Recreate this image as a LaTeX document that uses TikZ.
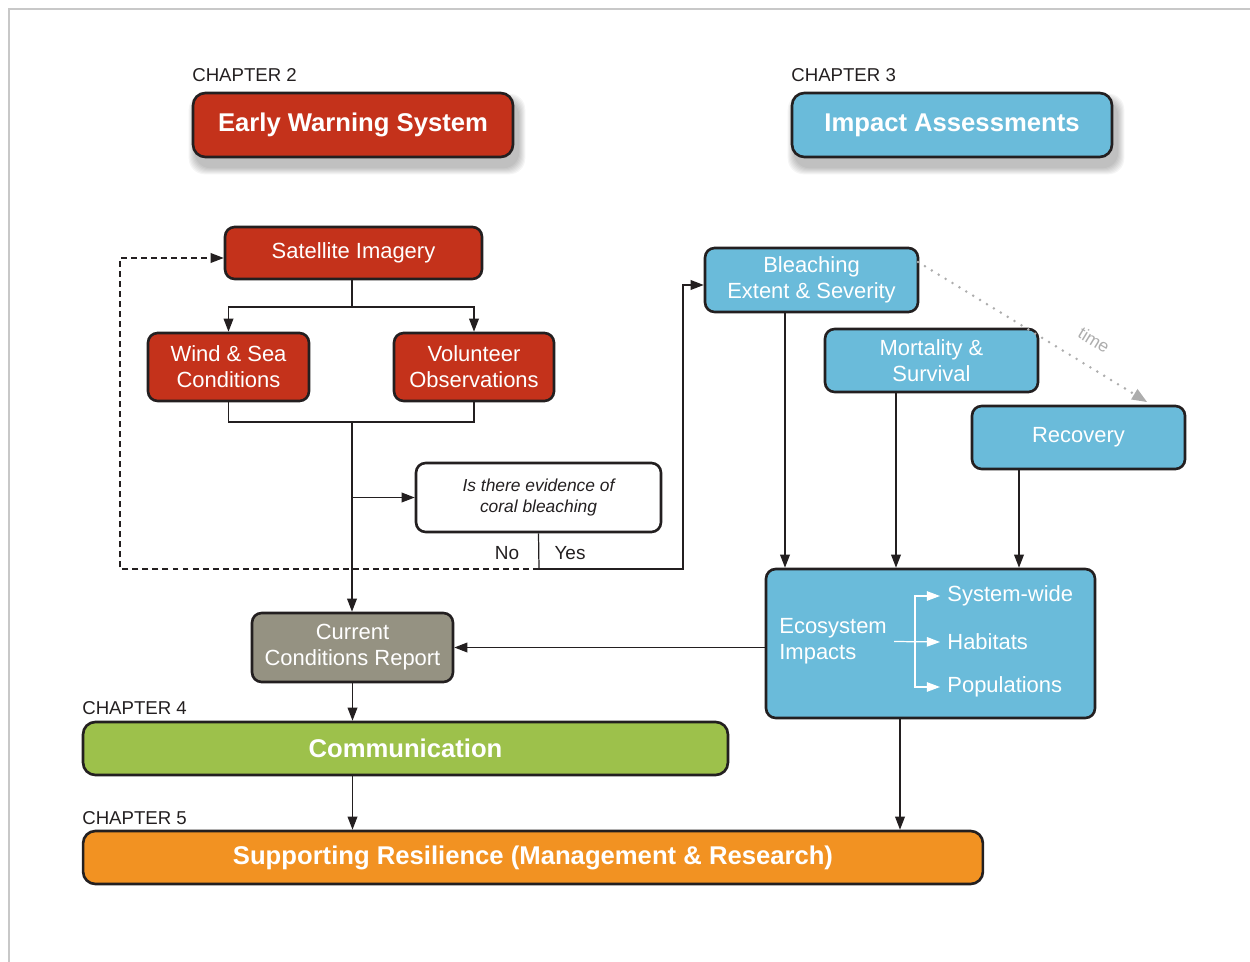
\documentclass[tikz,border=0pt]{standalone}
\usepackage{fontspec}
\setmainfont{Liberation Sans}
\usetikzlibrary{arrows.meta,calc,backgrounds}
\definecolor{cred}{HTML}{C4321B}
\definecolor{cblue}{HTML}{6ABBDA}
\definecolor{cgray}{HTML}{959282}
\definecolor{cgreen}{HTML}{9DC14B}
\definecolor{corange}{HTML}{F29222}
\definecolor{cline}{HTML}{231F20}
\definecolor{ctime}{HTML}{ADADAD}
\definecolor{cframe}{HTML}{C8C8C8}
\newcommand\fsz[2]{\fontsize{#1pt}{#2pt}\selectfont}
\begin{document}
\begin{tikzpicture}[x=0.02cm,y=-0.02cm,
  base/.style={draw=cline, line width=1.5pt, rounded corners=5.5pt, align=center, inner sep=0pt, text=white, font=\fsz{12.5}{14.7}},
  redbox/.style={base, fill=cred},
  bluebox/.style={base, fill=cblue},
  head/.style={base, rounded corners=7pt, font=\bfseries\fsz{14.6}{17}, minimum width=6.4cm, minimum height=1.28cm},
  bar/.style={base, rounded corners=7pt, font=\bfseries\fsz{14.6}{17}, minimum height=1.06cm},
  chap/.style={anchor=base west, inner sep=0pt, font=\fsz{10.6}{12}, text=cline},
  ln/.style={draw=cline, line width=0.7pt},
  arr/.style={ln, -{Triangle[length=7.5pt,width=5.6pt]}},
  dasharr/.style={arr, dash pattern=on 3.4pt off 2.3pt},
  warr/.style={draw=white, line width=0.7pt, -{Triangle[length=7.5pt,width=5.4pt]}},
  wlab/.style={anchor=west, inner xsep=4pt, inner ysep=0pt, text=white, font=\fsz{12.5}{14.7}},
  timearr/.style={draw=ctime, line width=1.6pt, line cap=round, dash pattern=on 0pt off 4.6pt, -{Triangle[length=8.5pt,width=7pt,fill=ctime,line width=0pt]}}
]
\useasboundingbox (0,0) rectangle (1250,962);
\draw[cframe, line width=1.1pt] (9,962) -- (9,9) -- (1250,9);

% chapter headers
\node[chap] (c2) at (192,82) {CHAPTER 2};
\node[chap] (c3) at (791,82) {CHAPTER 3};
\node[chap] (c4) at (82,714) {CHAPTER 4};
\node[chap] (c5) at (82,824) {CHAPTER 5};

\node[head, fill=cred] (ews) at (353,125) {Early Warning System};
\node[head, fill=cblue] (ia) at (952,125) {Impact Assessments};

% early warning part
\node[redbox, minimum width=5.14cm, minimum height=1.04cm] (sat) at (353.5,253) {Satellite Imagery};
\node[redbox, minimum width=3.22cm, minimum height=1.36cm] (wind) at (228.5,367) {Wind \& Sea\\Conditions};
\node[redbox, minimum width=3.2cm, minimum height=1.36cm] (vol) at (474,367) {Volunteer\\Observations};
\node[base, fill=white, text=cline, minimum width=4.9cm, minimum height=1.38cm, font=\itshape\fsz{9.9}{12.3}] (q) at (538.5,497.5) {Is there evidence of\\coral bleaching};
\node[base, fill=cgray, minimum width=4.02cm, minimum height=1.38cm] (ccr) at (352.5,647.5) {Current\\Conditions Report};

% impact part
\node[bluebox, minimum width=4.26cm, minimum height=1.28cm] (bl) at (811.5,280) {Bleaching\\Extent \& Severity};
\node[bluebox, minimum width=4.26cm, minimum height=1.26cm] (mort) at (931.5,360.5) {Mortality \&\\Survival};
\node[bluebox, minimum width=4.26cm, minimum height=1.26cm] (rec) at (1078.5,437.5) {Recovery};
\node[bluebox, minimum width=6.58cm, minimum height=2.98cm] (eco) at (930.5,643.5) {};
\node[wlab, align=left] (eit) at (772,641.5) {Ecosystem\\Impacts};
\node[wlab] (sw) at (940,596) {System-wide};
\node[wlab] (hab) at (940,642) {Habitats};
\node[wlab] (pop) at (940,687) {Populations};

% bottom bars
\node[bar, fill=cgreen, minimum width=12.9cm] (comm) at (405.5,748.5) {Communication};
\node[bar, fill=corange, minimum width=18cm] (sup) at (533,857.5) {Supporting Resilience (Management \& Research)};

% helper coordinates
\coordinate (split) at (352,307);
\coordinate (merge) at (352,422);
\coordinate (qb) at (539,569);
\coordinate (dl) at (120,569);
\coordinate (yr) at (683,569);
\coordinate (xa) at (785,0);
\coordinate (xb) at (896,0);
\coordinate (xc) at (1019,0);
\coordinate (xe) at (900,0);
\coordinate (fork) at (915,0);
\coordinate (ts) at (918,262);
\coordinate (te) at (1147,402);

% connectors, early warning
\draw[ln] (sat.south -| split) -- (split);
\draw[arr] (split) -| (wind.north);
\draw[arr] (split) -| (vol.north);
\draw[ln] (wind.south) |- (merge) -| (vol.south);
\draw[arr] (merge) -- (merge |- ccr.north);
\draw[arr] (merge |- q.west) -- (q.west);
\draw[ln] (q.south) -- (qb);
\draw[dasharr] (qb) -- (dl) |- ($(sat.west)+(0,5)$);
\draw[arr] (qb) -- (yr) |- ($(bl.west)+(0,5)$);
\node[anchor=base, inner sep=0pt, font=\fsz{10.8}{13}, text=cline] (no) at (507,559) {No};
\node[anchor=base, inner sep=0pt, font=\fsz{10.8}{13}, text=cline] (yes) at (570,559) {Yes};

% connectors, impact
\draw[arr] (bl.south -| xa) -- (xa |- eco.north);
\draw[arr] (mort.south -| xb) -- (xb |- eco.north);
\draw[arr] (rec.south -| xc) -- (xc |- eco.north);
\draw[timearr] (ts) -- (te);
\node[rotate=-31.4, text=ctime, font=\fsz{9.9}{12}, inner sep=0pt] (time) at (1094,340) {time};
\draw[warr] (eit.east) -- (hab.west);
\draw[warr] (eit.east -| fork) |- (sw.west);
\draw[warr] (eit.east -| fork) |- (pop.west);
\draw[arr] (eco.west |- ccr.east) -- (ccr.east);

% connectors, bottom
\draw[arr] (ccr.south) -- (ccr.south |- comm.north);
\draw[arr] (comm.south -| ccr.south) -- (ccr.south |- sup.north);
\draw[arr] (eco.south -| xe) -- (xe |- sup.north);

% shadows of chapter headers
\begin{pgfonlayer}{background}
\foreach \k in {1,...,7} {
  \fill[black, opacity=0.04, rounded corners=9pt] ($(ews.north west)+(4-\k,9-\k)$) rectangle ($(ews.south east)+(4+\k,9+\k)$);
  \fill[black, opacity=0.04, rounded corners=9pt] ($(ia.north west)+(4-\k,9-\k)$) rectangle ($(ia.south east)+(4+\k,9+\k)$);
}
\end{pgfonlayer}
\end{tikzpicture}
\end{document}
